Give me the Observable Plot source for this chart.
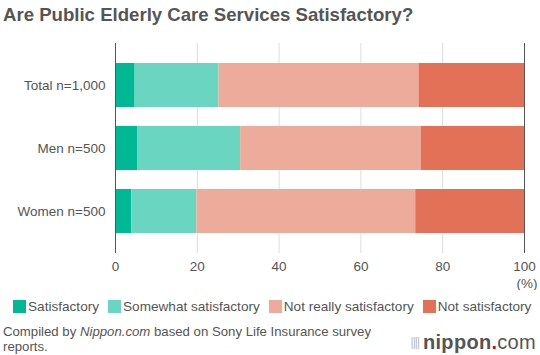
<!DOCTYPE html>
<html><head><meta charset="utf-8">
<script src="https://cdn.jsdelivr.net/npm/d3@7"></script>
<script src="https://cdn.jsdelivr.net/npm/@observablehq/plot@0.6"></script>
<style>
body{margin:0;background:#fff;font-family:"Liberation Sans",Arial,sans-serif;color:#555;width:540px;height:355px;overflow:hidden;position:relative}
#title{position:absolute;left:3px;top:4px;font-size:18.6px;font-weight:bold;color:#555;white-space:nowrap}
#chart{position:absolute;left:0;top:30px}
#legend{position:absolute;left:13px;top:299px;font-size:13.6px;line-height:16px;color:#555;display:flex;gap:9px;white-space:nowrap}
#legend span.sw{display:inline-block;width:13px;height:13px;vertical-align:-2px;margin-right:2px}
#caption{position:absolute;left:3px;top:324px;font-size:13.2px;line-height:15px;color:#555;width:400px}
#logo{position:absolute;right:4px;top:331px;font-size:20px;color:#555;font-weight:bold;letter-spacing:0.3px;white-space:nowrap}
#logo .bars{font-size:12px;color:#bbb;font-weight:normal;margin-right:4px;vertical-align:3px;letter-spacing:-1px}
</style></head><body>
<div id="title">Are Public Elderly Care Services Satisfactory?</div>
<div id="chart"></div>
<div id="legend"></div>
<div id="caption">Compiled by <i>Nippon.com</i> based on Sony Life Insurance survey<br>reports.</div>
<div id="logo"><span class="bars">||||</span>nippon<span style="color:#e60012">.</span><span style="font-weight:normal">com</span></div>
<script>
const groups = ["Total n=1,000", "Men n=500", "Women n=500"];
const categories = ["Satisfactory", "Somewhat satisfactory", "Not really satisfactory", "Not satisfactory"];
const satisfactory = [4.8, 5.4, 4.0];
const somewhatSatisfactory = [20.5, 25.2, 15.9];
const notReallySatisfactory = [48.9, 44.2, 53.5];
const notSatisfactory = [25.8, 25.2, 26.6];
const colors = ["#00b894", "#6ad6c1", "#edab9b", "#e27158"];
const xTicks = [0, 20, 40, 60, 80, 100];

const series = [satisfactory, somewhatSatisfactory, notReallySatisfactory, notSatisfactory];
const data = [];
groups.forEach((g, i) => categories.forEach((c, j) => data.push({group: g, category: c, value: series[j][i]})));

const chart = Plot.plot({
  width: 540,
  height: 260,
  marginLeft: 115,
  marginRight: 16,
  marginTop: 13,
  marginBottom: 37,
  style: {fontFamily: "Liberation Sans, Arial, sans-serif", fontSize: "13.5px", color: "#555", background: "#fff"},
  x: {domain: [0, 100]},
  y: {domain: groups, padding: 0.3},
  color: {domain: categories, range: colors},
  marks: [
    Plot.ruleX([20, 40, 60, 80], {stroke: "#ddd", strokeWidth: 1}),
    Plot.barX(data, Plot.stackX({x: "value", y: "group", fill: "category", order: categories})),
    Plot.ruleX([0, 100], {stroke: "#555", strokeWidth: 1}),
    Plot.axisX({ticks: xTicks, tickSize: 0, tickPadding: 8, label: "(%)", labelAnchor: "right", labelArrow: "none", labelOffset: 34, fill: "#555", fontSize: 13.5}),
    Plot.axisY({tickSize: 0, tickPadding: 10, label: null, fill: "#555", fontSize: 13.5})
  ]
});
document.getElementById("chart").appendChild(chart);

const legend = document.getElementById("legend");
categories.forEach((c, i) => {
  const el = document.createElement("div");
  el.innerHTML = `<span class="sw" style="background:${colors[i]}"></span>${c}`;
  legend.appendChild(el);
});
</script>
</body></html>
